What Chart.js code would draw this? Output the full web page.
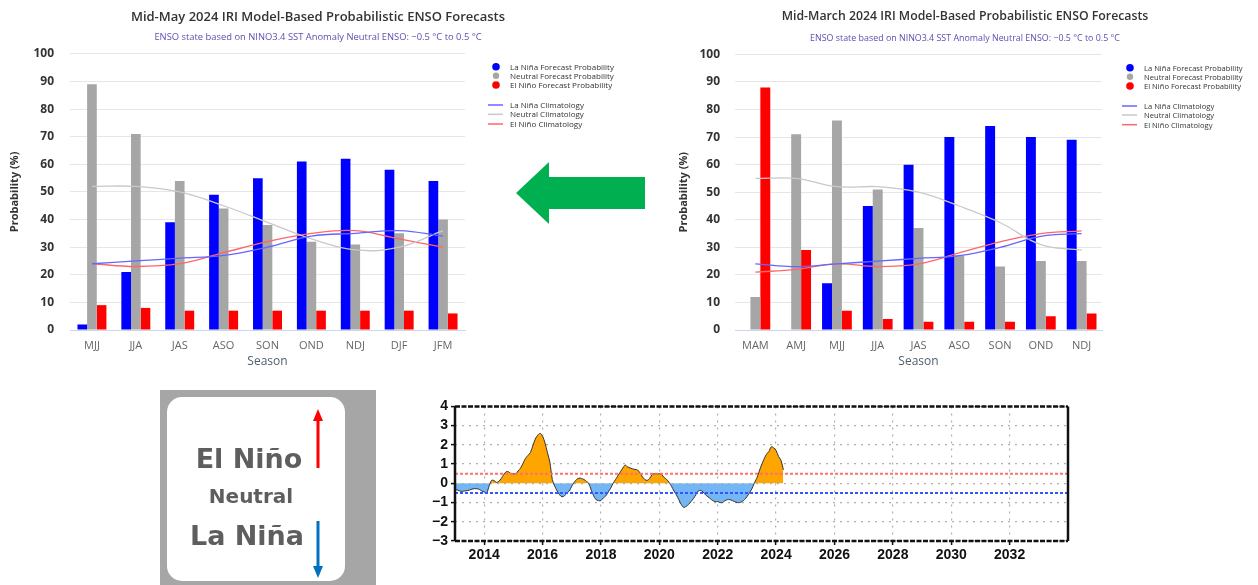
<!DOCTYPE html>
<html>
<head>
<meta charset="utf-8">
<script src="https://cdn.jsdelivr.net/npm/chart.js@4.4.1/dist/chart.umd.min.js"></script>
<style>
  body { margin:0; background:#fff; width:1258px; height:585px; overflow:hidden; position:relative; }
  canvas, svg { position:absolute; }
</style>
</head>
<body>
<canvas id="mayChart" width="636" height="375" style="left:0px;top:0px"></canvas>
<canvas id="marchChart" width="578" height="375" style="left:676px;top:0px"></canvas>
<canvas id="oniChart" width="680" height="175" style="left:400px;top:395px"></canvas>
<svg id="deco" width="1258" height="585" style="left:0;top:0;pointer-events:none"></svg>

<script>
// ---- forecast data (probability %) ----
var maySeasons = ["MJJ", "JJA", "JAS", "ASO", "SON", "OND", "NDJ", "DJF", "JFM"];
var mayNina    = [2, 21, 39, 49, 55, 61, 62, 58, 54];
var mayNeutral = [89, 71, 54, 44, 38, 32, 31, 35, 40];
var mayNino    = [9, 8, 7, 7, 7, 7, 7, 7, 6];
var mayNinaClim    = [24, 25, 26, 27, 30, 34, 35, 36, 34];
var mayNeutralClim = [52, 52, 50, 45, 39, 33, 29, 30, 36];
var mayNinoClim    = [24, 23, 24, 28, 32, 35, 36, 33, 30];

var marchSeasons = ["MAM", "AMJ", "MJJ", "JJA", "JAS", "ASO", "SON", "OND", "NDJ"];
var marchNina    = [0, 0, 17, 45, 60, 70, 74, 70, 69];
var marchNeutral = [12, 71, 76, 51, 37, 27, 23, 25, 25];
var marchNino    = [88, 29, 7, 4, 3, 3, 3, 5, 6];
var marchNinaClim    = [24, 23, 24, 25, 26, 27, 30, 34, 35];
var marchNeutralClim = [55, 55, 52, 52, 50, 45, 39, 31, 29];
var marchNinoClim    = [21, 22, 24, 23, 24, 28, 32, 35, 36];

var probTicks = [0, 10, 20, 30, 40, 50, 60, 70, 80, 90, 100];

var mayTitle = "Mid-May 2024 IRI Model-Based Probabilistic ENSO Forecasts";
var marchTitle = "Mid-March 2024 IRI Model-Based Probabilistic ENSO Forecasts";
var subTitle = "ENSO state based on NINO3.4 SST Anomaly Neutral ENSO: \u22120.5 \u00b0C to 0.5 \u00b0C";

var barLabels  = ["La Niña Forecast Probability", "Neutral Forecast Probability", "El Niño Forecast Probability"];
var lineLabels = ["La Niña Climatology", "Neutral Climatology", "El Niño Climatology"];

// ---- Nino3.4 anomaly, monthly from Jan 2013 ----
var oniStartYear = 2013;
var oniValues = [
  -0.32,-0.35,-0.4,-0.42,-0.4,-0.38,-0.35,-0.3,-0.28,-0.28,-0.32,-0.4,
  -0.45,-0.5,-0.15,0.15,0.15,0.05,0.1,0.25,0.45,0.6,0.6,0.5,
  0.5,0.5,0.65,0.8,1.05,1.3,1.45,1.6,1.95,2.3,2.5,2.6,
  2.45,2.1,1.6,1.1,0.2,-0.15,-0.4,-0.6,-0.7,-0.65,-0.5,-0.4,
  -0.15,0.05,0.2,0.27,0.25,0.2,0.1,0.0,-0.35,-0.65,-0.85,-0.9,
  -0.9,-0.75,-0.65,-0.45,-0.25,0.0,0.2,0.4,0.6,0.8,0.95,0.85,
  0.8,0.75,0.72,0.7,0.55,0.35,0.2,0.15,0.25,0.45,0.5,0.48,
  0.5,0.45,0.3,0.2,0.05,-0.15,-0.4,-0.6,-0.85,-1.1,-1.25,-1.2,
  -1.1,-0.95,-0.8,-0.6,-0.4,-0.37,-0.45,-0.6,-0.7,-0.8,-0.9,-0.95,
  -0.95,-1.0,-1.0,-0.9,-0.85,-0.85,-0.9,-0.95,-1.0,-1.0,-0.95,-0.85,
  -0.7,-0.5,-0.3,0.0,0.25,0.6,0.95,1.25,1.5,1.65,1.9,1.85,
  1.7,1.4,1.2,0.7
];
var oniYearTicks = [2014, 2016, 2018, 2020, 2022, 2024, 2026, 2028, 2030, 2032];
var oniXRange = [2013, 2034];
var oniYRange = [-3, 4];
var ninoThreshold = 0.5;
var ninaThreshold = -0.5;

var ninaColor = "#0000ff", neutralColor = "#a6a6a6", ninoColor = "#ff0000";

function forecastChart(id, title, seasons, nina, neutral, nino, ninaClim, neutralClim, ninoClim, cfg) {
  var ctx = document.getElementById(id);
  return new Chart(ctx, {
    type: "bar",
    data: {
      labels: seasons,
      datasets: [
        { type: "line", label: lineLabels[0], data: ninaClim, borderColor: "#6666ff", borderWidth: 1.3, pointRadius: 0, tension: 0.4, order: 0 },
        { type: "line", label: lineLabels[1], data: neutralClim, borderColor: "#c9c9c9", borderWidth: 1.3, pointRadius: 0, tension: 0.4, order: 0 },
        { type: "line", label: lineLabels[2], data: ninoClim, borderColor: "#ff6666", borderWidth: 1.3, pointRadius: 0, tension: 0.4, order: 0 },
        { label: barLabels[0], data: nina, backgroundColor: ninaColor, order: 1 },
        { label: barLabels[1], data: neutral, backgroundColor: neutralColor, order: 1 },
        { label: barLabels[2], data: nino, backgroundColor: ninoColor, order: 1 }
      ]
    },
    options: {
      responsive: false,
      animation: false,
      devicePixelRatio: 1,
      layout: { padding: 0 },
      datasets: { bar: { categoryPercentage: cfg.catPct, barPercentage: 1 } },
      plugins: {
        legend: { display: false },
        tooltip: { enabled: false },
        title: {
          display: true, text: title, color: "#333",
          font: { family: "Open Sans", size: cfg.titleSize, weight: "600" },
          padding: { top: 9, bottom: 6 }
        },
        subtitle: {
          display: true, text: subTitle, color: "#5a4fb0",
          font: { family: "Open Sans", size: cfg.subSize },
          padding: { top: cfg.subTop, bottom: 11 }
        }
      },
      scales: {
        x: {
          grid: { display: false, drawTicks: false },
          border: { color: "#ccd6eb", width: 1 },
          ticks: { color: "#666", font: { family: "Open Sans", size: 11 }, padding: 9 },
          title: { display: true, text: "Season", color: "#50606e", font: { family: "Open Sans", size: 12 }, padding: { top: 0, bottom: 6 } },
          afterFit: function(s) { s.height = 45; }
        },
        y: {
          min: 0, max: 100,
          afterBuildTicks: function(s) { s.ticks = probTicks.map(function(v) { return { value: v }; }); },
          grid: { color: "#e6e6e6", drawTicks: false },
          border: { display: false },
          ticks: { color: "#333", font: { family: "Open Sans", size: 12, weight: "bold" }, padding: cfg.tickPad },
          title: { display: true, text: "Probability (%)", color: "#333", font: { family: "Open Sans", size: 11, weight: "bold" }, padding: { top: cfg.titlePad } },
          afterFit: function(s) { s.width = cfg.yWidth; }
        },
        // empty right axis: leaves room for the legend without moving the title
        legendRoom: {
          position: "right",
          grid: { display: false, drawTicks: false },
          border: { display: false },
          ticks: { display: false },
          afterFit: function(s) { s.width = cfg.padRight; }
        }
      }
    }
  });
}

forecastChart("mayChart", mayTitle, maySeasons, mayNina, mayNeutral, mayNino,
  mayNinaClim, mayNeutralClim, mayNinoClim,
  { padRight: 171, catPct: 0.66, subTop: 1, tickPad: 16, titlePad: 8, yWidth: 70, titleSize: 13, subSize: 9.4 });

forecastChart("marchChart", marchTitle, marchSeasons, marchNina, marchNeutral, marchNino,
  marchNinaClim, marchNeutralClim, marchNinoClim,
  { padRight: 152, catPct: 0.73, subTop: 3, tickPad: 15, titlePad: 1.5, yWidth: 59, titleSize: 12.3, subSize: 8.9 });

// frame round the anomaly plot: solid sides, dashed top and bottom
var framePlugin = {
  id: "frame",
  afterDraw: function(chart) {
    var a = chart.chartArea, c = chart.ctx;
    c.save();
    c.strokeStyle = "#111";
    c.lineWidth = 2.5;
    c.beginPath();
    c.moveTo(a.left, a.top); c.lineTo(a.left, a.bottom);
    c.moveTo(a.right, a.top); c.lineTo(a.right, a.bottom);
    c.stroke();
    c.setLineDash([5, 1.5]);
    c.beginPath();
    c.moveTo(a.left, a.top); c.lineTo(a.right, a.top);
    c.moveTo(a.left, a.bottom); c.lineTo(a.right, a.bottom);
    c.stroke();
    c.restore();
  }
};

var oniPoints = oniValues.map(function(v, i) { return { x: oniStartYear + i / 12, y: v }; });

new Chart(document.getElementById("oniChart"), {
  type: "line",
  data: {
    datasets: [
      { label: "El Niño threshold", data: [{ x: oniXRange[0], y: ninoThreshold }, { x: oniXRange[1], y: ninoThreshold }],
        borderColor: "#ff6f6f", borderWidth: 2, borderDash: [3, 2], pointRadius: 0, order: 0 },
      { label: "La Niña threshold", data: [{ x: oniXRange[0], y: ninaThreshold }, { x: oniXRange[1], y: ninaThreshold }],
        borderColor: "#3355ff", borderWidth: 2, borderDash: [3, 2], pointRadius: 0, order: 0 },
      { label: "Nino3.4", data: oniPoints, borderColor: "#333", borderWidth: 1, pointRadius: 0, tension: 0.3, order: 1,
        fill: { target: "origin", above: "#ffa500", below: "#74b6f3" } }
    ]
  },
  options: {
    responsive: false,
    animation: false,
    devicePixelRatio: 1,
    layout: { padding: { left: 0, right: 12, top: 8, bottom: 5 } },
    plugins: { legend: { display: false }, tooltip: { enabled: false } },
    scales: {
      x: {
        type: "linear", min: oniXRange[0], max: oniXRange[1],
        afterBuildTicks: function(s) { s.ticks = oniYearTicks.map(function(v) { return { value: v }; }); },
        grid: { color: "#b0b0b0", lineWidth: 1.2, tickLength: 4, tickColor: "#111", tickWidth: 1.5 },
        border: { display: false, dash: [2, 5] },
        ticks: { autoSkip: false, color: "#111", font: { family: "Liberation Sans", size: 14, weight: "bold" }, padding: 2, maxRotation: 0,
                 callback: function(v) { return String(v); } },
        afterFit: function(s) { s.height = 24; }
      },
      y: {
        min: oniYRange[0], max: oniYRange[1],
        ticks: { autoSkip: false, stepSize: 1, color: "#111", font: { family: "Liberation Sans", size: 14, weight: "bold" }, padding: 3,
                 callback: function(v) { return v < 0 ? "\u2212" + Math.abs(v) : String(v); } },
        grid: { color: "#b0b0b0", lineWidth: 1.2, tickLength: 4, tickColor: "#111", tickWidth: 1.5 },
        border: { display: false, dash: [2, 5] },
        afterFit: function(s) { s.width = 55; }
      }
    }
  },
  plugins: [framePlugin]
});

// ---- decorations: legends, green arrow, phase box ----
var NS = "http://www.w3.org/2000/svg";
var svg = document.getElementById("deco");
function el(tag, attrs, text) {
  var e = document.createElementNS(NS, tag);
  for (var k in attrs) e.setAttribute(k, attrs[k]);
  if (text) e.textContent = text;
  svg.appendChild(e);
  return e;
}

function legend(x, rows, lineRows, size) {
  var colors = [ninaColor, neutralColor, ninoColor];
  var lineColors = ["#6666ff", "#c9c9c9", "#ff6666"];
  for (var i = 0; i < 3; i++) {
    el("circle", { cx: x, cy: rows[i], r: i == 1 ? 3.2 : 3.8, fill: colors[i] });
    el("text", { x: x + 14, y: rows[i] + 3, "font-family": "Open Sans", "font-size": size, fill: "#333" }, barLabels[i]);
    el("line", { x1: x - 8, x2: x + 7, y1: lineRows[i], y2: lineRows[i], stroke: lineColors[i], "stroke-width": 1.5 });
    el("text", { x: x + 14, y: lineRows[i] + 3, "font-family": "Open Sans", "font-size": size, fill: "#333" }, lineLabels[i]);
  }
}
legend(496, [66.7, 75.7, 85], [105, 114.3, 124], 8);
legend(1130, [67.7, 76.7, 86], [106, 115, 124.7], 7.6);

el("polygon", { points: "516,193 549,162 549,177 645,177 645,209 549,209 549,224", fill: "#00b050" });

el("rect", { x: 160, y: 390, width: 216, height: 195, fill: "#a6a6a6" });
el("rect", { x: 167, y: 397, width: 178, height: 184, rx: 15, ry: 15, fill: "#fff" });
el("text", { x: 249, y: 468, "text-anchor": "middle", "font-family": "DejaVu Sans", "font-weight": "bold", "font-size": 27, fill: "#5e5e5e" }, "El Niño");
el("text", { x: 251, y: 503, "text-anchor": "middle", "font-family": "DejaVu Sans", "font-weight": "bold", "font-size": 20, fill: "#5e5e5e" }, "Neutral");
el("text", { x: 247, y: 545, "text-anchor": "middle", "font-family": "DejaVu Sans", "font-weight": "bold", "font-size": 27, fill: "#5e5e5e" }, "La Niña");
el("line", { x1: 318, x2: 318, y1: 468, y2: 418, stroke: "#ff0000", "stroke-width": 3 });
el("polygon", { points: "318,409 313,421 323,421", fill: "#ff0000" });
el("line", { x1: 318, x2: 318, y1: 521, y2: 569, stroke: "#0070c0", "stroke-width": 3 });
el("polygon", { points: "318,578 313,566 323,566", fill: "#0070c0" });
</script>
</body>
</html>
